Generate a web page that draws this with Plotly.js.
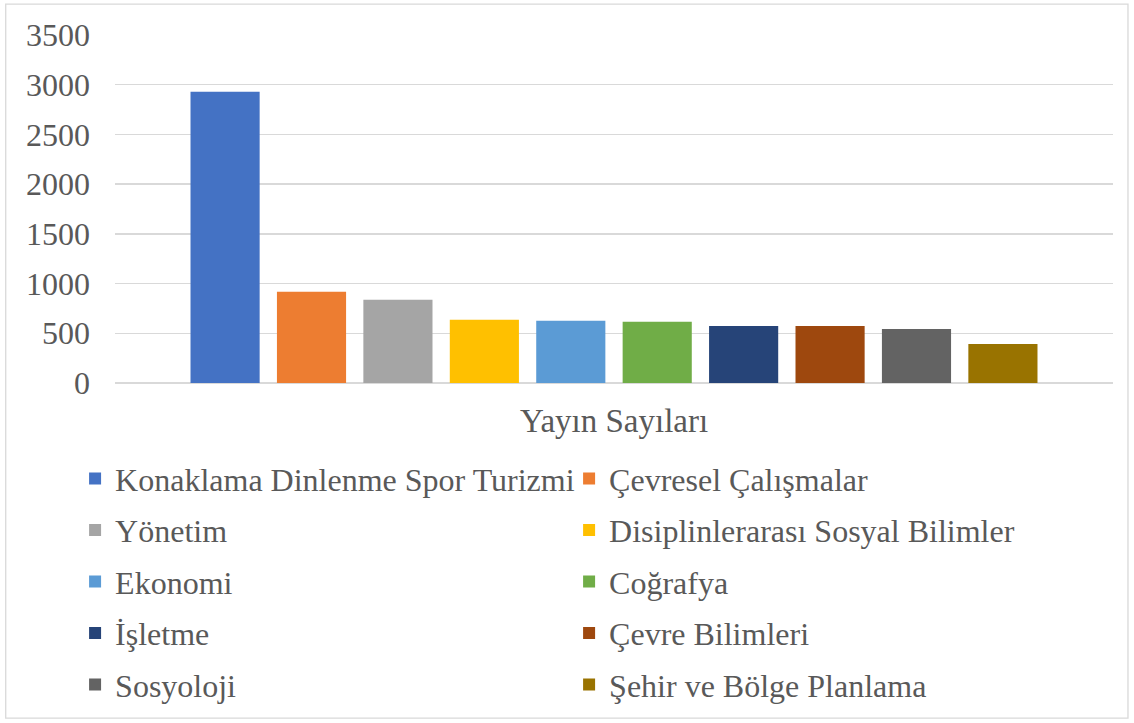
<!DOCTYPE html>
<html>
<head>
<meta charset="utf-8">
<script src="https://cdn.plot.ly/plotly-3.0.1.min.js"></script>
<style>
html,body{margin:0;padding:0;background:#fff;}
#chart{width:1134px;height:723px;}
</style>
</head>
<body>
<div id="chart"></div>
<script>
const category = ["Yayın Sayıları"];
const seriesNames = [
  "Konaklama Dinlenme Spor Turizmi",
  "Çevresel Çalışmalar",
  "Yönetim",
  "Disiplinlerarası Sosyal Bilimler",
  "Ekonomi",
  "Coğrafya",
  "İşletme",
  "Çevre Bilimleri",
  "Sosyoloji",
  "Şehir ve Bölge Planlama"
];
const seriesValues = [2930, 919, 838, 635, 625, 615, 574, 574, 544, 392];
const seriesColors = ["#4472C4", "#ED7D31", "#A5A5A5", "#FFC000", "#5B9BD5",
                      "#70AD47", "#264478", "#9E480E", "#636363", "#997300"];
const yTicks = [0, 500, 1000, 1500, 2000, 2500, 3000, 3500];

const FONT = "Liberation Serif, Times New Roman, serif";
const TXT = "#595959";

const traces = seriesNames.map((name, i) => ({
  type: "bar",
  name: name,
  x: category,
  y: [seriesValues[i]],
  marker: {color: seriesColors[i], line: {width: 0}},
  legend: i % 2 === 0 ? "legend" : "legend2",
  legendgroup: "g" + i,
  hoverinfo: "name+y"
}));

const legendCommon = {
  orientation: "v",
  xanchor: "left",
  yanchor: "top",
  y: -0.196,
  bgcolor: "rgba(0,0,0,0)",
  borderwidth: 0,
  tracegroupgap: 6.9,
  font: {family: FONT, size: 32, color: TXT},
  itemclick: false,
  itemdoubleclick: false
};

const layout = {
  width: 1134,
  height: 723,
  paper_bgcolor: "#ffffff",
  plot_bgcolor: "#ffffff",
  margin: {l: 115, r: 21, t: 35, b: 340, autoexpand: false},
  barmode: "group",
  bargap: 0.134,
  bargroupgap: 0.2,
  font: {family: FONT, size: 32, color: TXT},
  xaxis: {
    type: "category",
    showgrid: false,
    zeroline: false,
    showline: false,
    ticks: "",
    ticklabelstandoff: 15,
    tickfont: {family: FONT, size: 33, color: TXT},
    fixedrange: true
  },
  yaxis: {
    range: [0, 3500],
    tickvals: yTicks,
    ticktext: yTicks.map(String),
    showgrid: true,
    gridcolor: "#d9d9d9",
    gridwidth: 1.3,
    zeroline: true,
    zerolinecolor: "#d9d9d9",
    zerolinewidth: 1.3,
    showline: false,
    ticks: "",
    ticklabelstandoff: 24,
    tickfont: {family: FONT, size: 32, color: TXT},
    fixedrange: true
  },
  showlegend: true,
  legend: Object.assign({}, legendCommon, {x: -0.04}),
  legend2: Object.assign({}, legendCommon, {x: 0.455}),
  shapes: [{
    type: "rect",
    xref: "paper", yref: "paper",
    x0: -0.1095, x1: 1.015,
    y0: -0.963, y1: 1.089,
    line: {color: "#d9d9d9", width: 1.3},
    fillcolor: "rgba(0,0,0,0)",
    layer: "below"
  }]
};

Plotly.newPlot("chart", traces, layout, {displayModeBar: false, staticPlot: true});
</script>
</body>
</html>
